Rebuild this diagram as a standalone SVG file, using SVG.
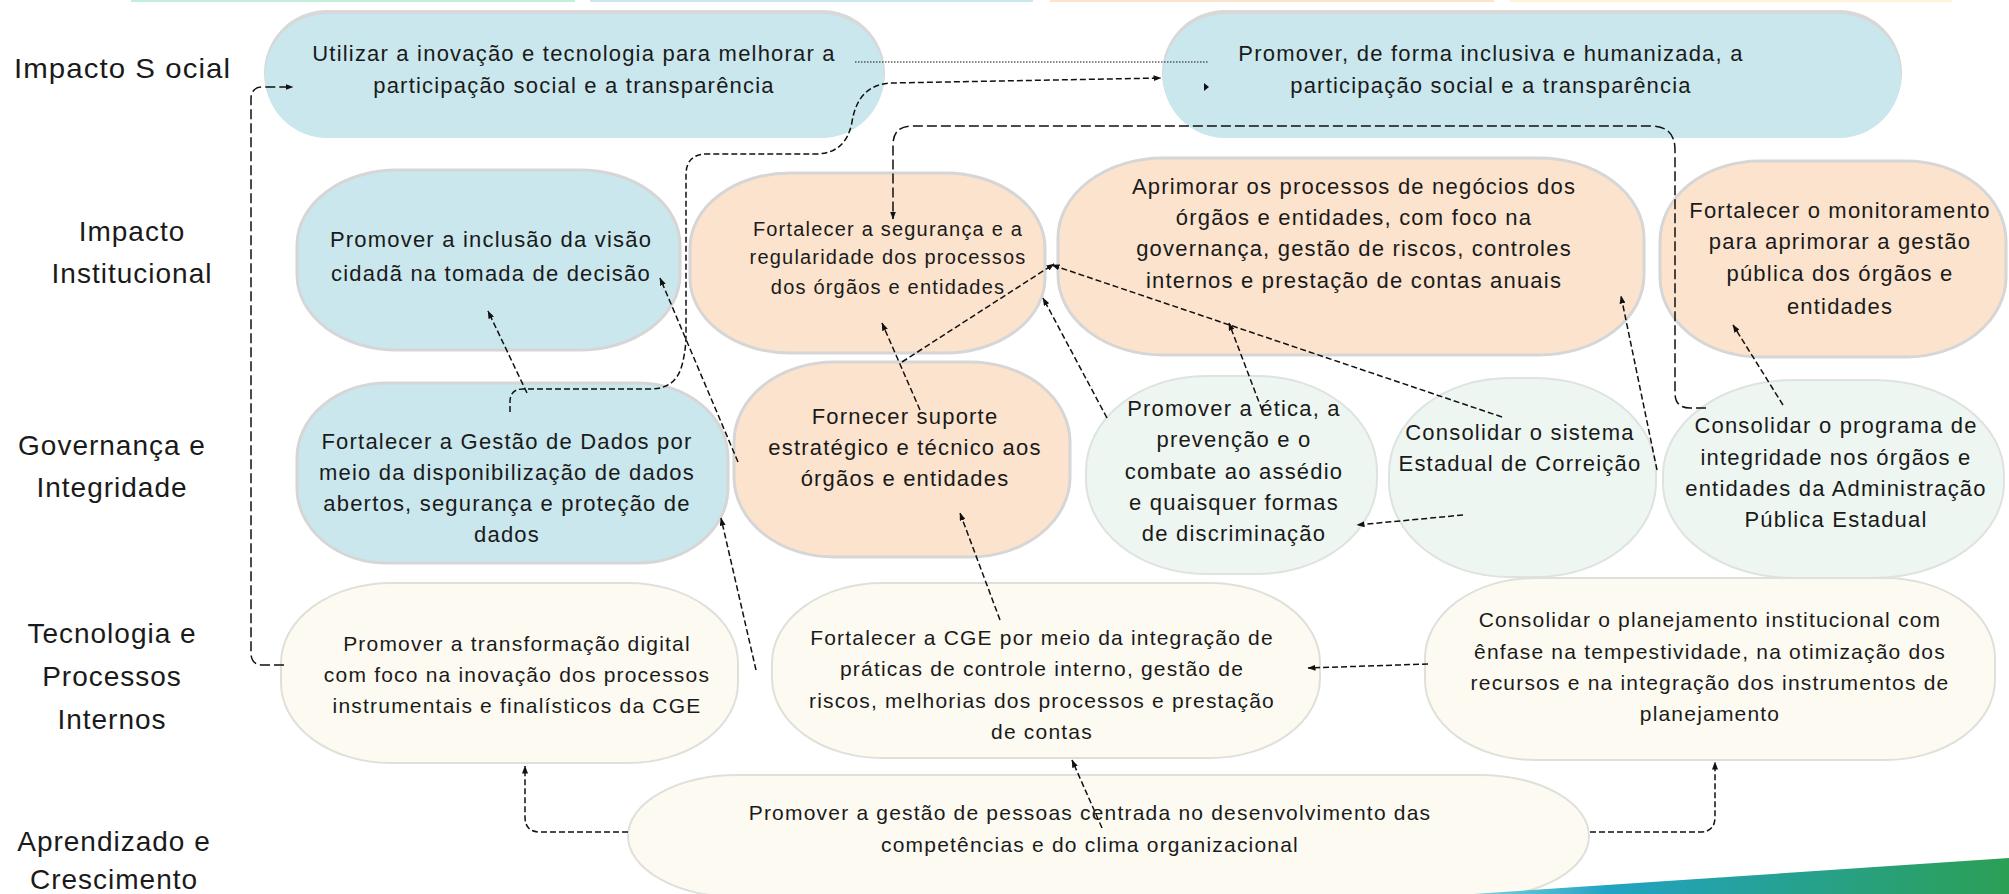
<svg xmlns="http://www.w3.org/2000/svg" width="2009" height="894" viewBox="0 0 2009 894">
<defs>
<style>
.lbl{font-family:"Liberation Sans",Arial,sans-serif;font-size:28px;fill:#1a1a1a;text-anchor:middle;letter-spacing:1px}
.t{font-family:"Liberation Sans",Arial,sans-serif;font-size:22px;fill:#1a1a1a;text-anchor:middle;letter-spacing:1.2px}
.s21{font-size:21px}
.s20{font-size:20px}
.blue{fill:#C9E7EC;stroke:#D6D6D6;stroke-width:3}
.orange{fill:#FBE3CD;stroke:#D6D6D6;stroke-width:3}
.mint{fill:#EEF6F1;stroke:#DEE3DF;stroke-width:2}
.cream{fill:#FDFAF2;stroke:#E0E0DB;stroke-width:2}
.sh{fill:#D8D8D8}
.c{fill:none;stroke:#111;stroke-width:1.5;stroke-dasharray:6 3}
.cl{fill:none;stroke:#111;stroke-width:1.5;stroke-dasharray:10 4}
.dot{fill:none;stroke:#111;stroke-width:1.2;stroke-dasharray:1.5 1.5}
.a{marker-end:url(#ah)}
</style>
<marker id="ah" viewBox="0 0 8 6" refX="7.5" refY="3" markerWidth="8" markerHeight="6" markerUnits="userSpaceOnUse" orient="auto">
<path d="M0,0 L8,3 L0,6 z" fill="#111"/>
</marker>
<linearGradient id="gr" x1="0" y1="0" x2="1" y2="0">
<stop offset="0" stop-color="#7FCFE0"/>
<stop offset="0.25" stop-color="#21A3C4"/>
<stop offset="1" stop-color="#2C9F55"/>
</linearGradient>
</defs>
<rect width="2009" height="894" fill="#ffffff"/>
<g id="topbars">
<rect x="131" y="0" width="444" height="2" fill="#C3EEDA"/>
<rect x="590" y="0" width="443" height="2" fill="#C9E7EC"/>
<rect x="1050" y="0" width="444" height="2" fill="#FBE3CD"/>
<rect x="1510" y="0" width="442" height="2" fill="#FFF3D8"/>
</g>
<g id="labels">
<text class="lbl" x="14" y="78" style="text-anchor:start" textLength="217" lengthAdjust="spacingAndGlyphs">Impacto S ocial</text>
<text class="lbl" x="132" y="241">Impacto</text>
<text class="lbl" x="132" y="283">Institucional</text>
<text class="lbl" x="112" y="455">Governança e</text>
<text class="lbl" x="112" y="497">Integridade</text>
<text class="lbl" x="112" y="643">Tecnologia e</text>
<text class="lbl" x="112" y="686">Processos</text>
<text class="lbl" x="112" y="729">Internos</text>
<text class="lbl" x="114" y="851">Aprendizado e</text>
<text class="lbl" x="114" y="889">Crescimento</text>
</g>
<g id="n1">
<rect class="sh" x="264" y="10" width="621" height="126" rx="63"/>
<rect class="blue" x="265" y="14" width="619" height="124" rx="62" style="stroke:none"/>
<text class="t" x="574" y="61">Utilizar a inovação e tecnologia para melhorar a</text>
<text class="t" x="574" y="93">participação social e a transparência</text>
</g>
<g id="n2">
<rect class="sh" x="1162" y="10" width="740" height="126" rx="63"/>
<rect class="blue" x="1163" y="14" width="738" height="124" rx="62" style="stroke:none"/>
<text class="t" x="1491" y="61">Promover, de forma inclusiva e humanizada, a</text>
<text class="t" x="1491" y="93">participação social e a transparência</text>
</g>
<g id="n3">
<rect class="blue" x="297" y="170" width="383" height="180" rx="100" ry="75"/>
<text class="t" x="491" y="247">Promover a inclusão da visão</text>
<text class="t" x="491" y="281">cidadã na tomada de decisão</text>
</g>
<g id="n4">
<rect class="orange" x="690" y="173" width="355" height="180" rx="100" ry="75"/>
<text class="t s20" x="888" y="236">Fortalecer a segurança e a</text>
<text class="t s20" x="888" y="264">regularidade dos processos</text>
<text class="t s20" x="888" y="294">dos órgãos e entidades</text>
</g>
<g id="n5">
<rect class="orange" x="1058" y="158" width="586" height="197" rx="105" ry="80"/>
<text class="t" x="1354" y="194">Aprimorar os processos de negócios dos</text>
<text class="t" x="1354" y="225">órgãos e entidades, com foco na</text>
<text class="t" x="1354" y="256">governança, gestão de riscos, controles</text>
<text class="t" x="1354" y="288">internos e prestação de contas anuais</text>
</g>
<g id="n6">
<rect class="orange" x="1660" y="161" width="346" height="196" rx="100" ry="80"/>
<text class="t" x="1840" y="218">Fortalecer o monitoramento</text>
<text class="t" x="1840" y="249">para aprimorar a gestão</text>
<text class="t" x="1840" y="281">pública dos órgãos e</text>
<text class="t" x="1840" y="314">entidades</text>
</g>
<g id="n7">
<rect class="blue" x="297" y="383" width="431" height="180" rx="90" ry="75"/>
<text class="t" x="507" y="449">Fortalecer a Gestão de Dados por</text>
<text class="t" x="507" y="480">meio da disponibilização de dados</text>
<text class="t" x="507" y="511">abertos, segurança e proteção de</text>
<text class="t" x="507" y="542">dados</text>
</g>
<g id="n8">
<rect class="orange" x="734" y="362" width="336" height="195" rx="100" ry="80"/>
<text class="t" x="905" y="424">Fornecer suporte</text>
<text class="t" x="905" y="455">estratégico e técnico aos</text>
<text class="t" x="905" y="486">órgãos e entidades</text>
</g>
<g id="n9">
<rect class="mint" x="1086" y="376" width="291" height="198" rx="120" ry="95"/>
<text class="t" x="1234" y="416">Promover a ética, a</text>
<text class="t" x="1234" y="447">prevenção e o</text>
<text class="t" x="1234" y="479">combate ao assédio</text>
<text class="t" x="1234" y="510">e quaisquer formas</text>
<text class="t" x="1234" y="541">de discriminação</text>
</g>
<g id="n10">
<rect class="mint" x="1389" y="378" width="267" height="199" rx="120" ry="95"/>
<text class="t" x="1520" y="440">Consolidar o sistema</text>
<text class="t" x="1520" y="471">Estadual de Correição</text>
</g>
<g id="n11">
<rect class="mint" x="1663" y="380" width="341" height="198" rx="130" ry="95"/>
<text class="t" x="1836" y="433">Consolidar o programa de</text>
<text class="t" x="1836" y="465">integridade nos órgãos e</text>
<text class="t" x="1836" y="496">entidades da Administração</text>
<text class="t" x="1836" y="527">Pública Estadual</text>
</g>
<g id="n12">
<rect class="cream" x="281" y="583" width="457" height="180" rx="110" ry="80"/>
<text class="t s21" x="517" y="651">Promover a transformação digital</text>
<text class="t s21" x="517" y="682">com foco na inovação dos processos</text>
<text class="t s21" x="517" y="713">instrumentais e finalísticos da CGE</text>
</g>
<g id="n13">
<rect class="cream" x="772" y="583" width="548" height="175" rx="110" ry="80"/>
<text class="t s21" x="1042" y="645">Fortalecer a CGE por meio da integração de</text>
<text class="t s21" x="1042" y="676">práticas de controle interno, gestão de</text>
<text class="t s21" x="1042" y="708">riscos, melhorias dos processos e prestação</text>
<text class="t s21" x="1042" y="739">de contas</text>
</g>
<g id="n14">
<rect class="cream" x="1425" y="578" width="570" height="182" rx="110" ry="80"/>
<text class="t s21" x="1710" y="627">Consolidar o planejamento institucional com</text>
<text class="t s21" x="1710" y="659">ênfase na tempestividade, na otimização dos</text>
<text class="t s21" x="1710" y="690">recursos e na integração dos instrumentos de</text>
<text class="t s21" x="1710" y="721">planejamento</text>
</g>
<g id="n15">
<rect class="cream" x="628" y="775" width="961" height="122" rx="110" ry="62"/>
<text class="t s21" x="1090" y="820">Promover a gestão de pessoas centrada no desenvolvimento das</text>
<text class="t s21" x="1090" y="852">competências e do clima organizacional</text>
</g>
<g id="connectors">
<path class="cl a" d="M284,665 H263 Q251,665 251,653 V99 Q251,87 263,87 H293"/>
<path class="dot" d="M855,62 H1209"/>
<path d="M1204,83 L1209,87 L1204,91 z" fill="#111"/>
<path class="c a" d="M510,412 V402 Q510,389 523,389 H650 Q676,389 682,365 Q686,350 686,335 V175 Q686,154 707,154 H815 Q846,154 852,122 Q858,84 892,83 L1161,78"/>
<path class="c a" d="M527,393 L488,311"/>
<path class="c a" d="M738,462 L660,278"/>
<path class="c a" d="M756,670 L721,518"/>
<path class="cl a" d="M1706,408 H1690 Q1675,408 1675,393 V150 Q1675,126 1651,126 H912 Q893,126 893,145 V219"/>
<path class="c a" d="M920,410 L882,323"/>
<path class="c a" d="M902,362 L1054,264"/>
<path class="c a" d="M1502,417 L1052,265"/>
<path class="c a" d="M1262,410 L1229,323"/>
<path class="c a" d="M1107,418 L1043,298"/>
<path class="c a" d="M1463,515 L1357,525"/>
<path class="c a" d="M1657,470 L1621,296"/>
<path class="c a" d="M1783,405 L1733,325"/>
<path class="c a" d="M1000,620 L960,513"/>
<path class="c a" d="M1102,828 L1072,760"/>
<path class="c a" d="M628,832 H540 Q525,832 525,817 V766"/>
<path class="c a" d="M1590,832 H1700 Q1715,832 1715,817 V762"/>
<path class="c a" d="M1428,664 L1308,668"/>
</g>
<g id="corner">
<polygon points="1473,894 2009,858 2009,894" fill="url(#gr)"/>
</g>
</svg>
